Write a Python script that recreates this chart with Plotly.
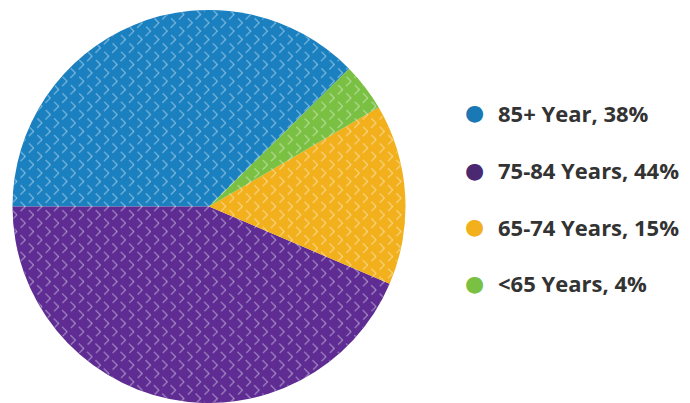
import base64
import plotly.graph_objects as go

labels = ["85+ Year", "75-84 Years", "65-74 Years", "<65 Years"]
values = [38, 44, 15, 4]
slice_colors = ["#1A80C0", "#5E2C92", "#F2B01C", "#79C043"]
legend_dot_colors = ["#1A78B4", "#4B2872", "#F2B01C", "#79C043"]

OFF = 8  # default page body margin
W, H = 682, 395
PIE_X = [(12.5 - OFF) / W, (405.5 - OFF) / W]
PIE_Y = [0, 1]
START = -90  # first slice starts at 9 o'clock

fig = go.Figure()
fig.add_trace(go.Pie(
    labels=labels,
    values=values,
    sort=False,
    direction="counterclockwise",
    rotation=START,
    textinfo="none",
    hoverinfo="label+percent",
    showlegend=False,
    marker=dict(colors=slice_colors, line=dict(width=0)),
    domain=dict(x=PIE_X, y=PIE_Y),
))

# decorative lattice texture laid over the disc (purely ornamental)
step = 17
lines = []
for k in range(-425, 850, step):
    lines.append(f'<line x1="{k}" y1="0" x2="{k + 400}" y2="400"/>')
    lines.append(f'<line x1="{k}" y1="400" x2="{k + 400}" y2="0"/>')
svg = (
    '<svg xmlns="http://www.w3.org/2000/svg" width="400" height="400" viewBox="0 0 400 400">'
    '<defs><clipPath id="c"><circle cx="200" cy="200" r="199.5"/></clipPath></defs>'
    '<g clip-path="url(#c)" stroke="#ffffff" stroke-opacity="0.33" stroke-width="1.6" '
    'stroke-dasharray="7 5" fill="none">' + "".join(lines) + '</g></svg>'
)
texture = "data:image/svg+xml;base64," + base64.b64encode(svg.encode()).decode()

legend_y = [113, 170, 226.5, 283]
annotations = []
for lab, val, col, yy in zip(labels, values, legend_dot_colors, legend_y):
    yf = 1 - (yy - OFF - 2) / (H - 2)
    annotations.append(dict(
        x=(475 - OFF) / W, y=yf, xref="paper", yref="paper",
        text="●", showarrow=False, xanchor="center", yanchor="middle",
        font=dict(size=22, color=col, family="DejaVu Sans"),
    ))
    annotations.append(dict(
        x=(496 - OFF) / W, y=yf, xref="paper", yref="paper",
        text=f"{lab}, {val}%", showarrow=False, xanchor="left", yanchor="middle",
        font=dict(size=22, color="#333333", family="Open Sans", weight=700),
    ))

fig.update_layout(
    width=W, height=H,
    margin=dict(l=0, r=0, t=2, b=0),
    paper_bgcolor="white",
    plot_bgcolor="white",
    annotations=annotations,
    images=[dict(
        source=texture, xref="paper", yref="paper",
        x=PIE_X[0], y=PIE_Y[1], sizex=PIE_X[1] - PIE_X[0], sizey=PIE_Y[1] - PIE_Y[0],
        xanchor="left", yanchor="top", sizing="stretch", layer="above",
    )],
)

fig.write_html("out.html")
